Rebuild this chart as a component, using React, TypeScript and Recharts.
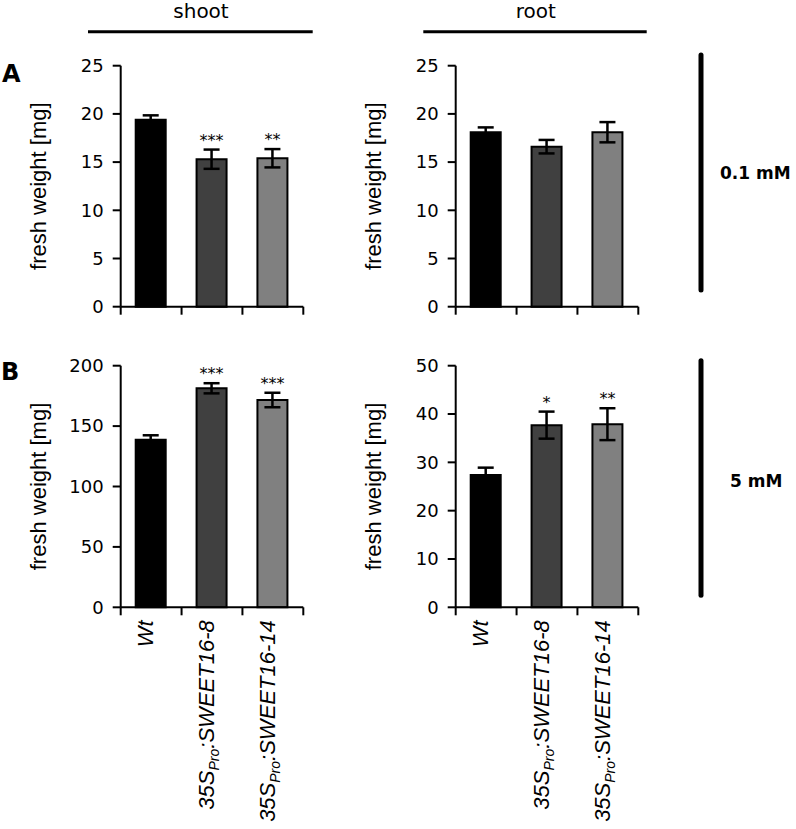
import React from 'react';
import { BarChart, Bar, XAxis, YAxis, ErrorBar, Cell, LabelList, Label } from 'recharts';

// genotypes on the x axis
const categories = ['Wt', '35SPro:SWEET16-8', '35SPro:SWEET16-14'];
const barColors = ['#000000', '#404040', '#808080'];

// 0.1 mM – shoot
const shootLowValues = [19.4, 15.3, 15.4];
const shootLowErrors = [0.45, 1.0, 0.95];
const shootLowStars = ['', '***', '**'];
// 0.1 mM – root
const rootLowValues = [18.1, 16.6, 18.1];
const rootLowErrors = [0.5, 0.7, 1.05];
const rootLowStars = ['', '', ''];
// 5 mM – shoot
const shootHighValues = [138.6, 181.3, 171.6];
const shootHighErrors = [3.8, 4.2, 6.0];
const shootHighStars = ['', '***', '***'];
// 5 mM – root
const rootHighValues = [27.4, 37.7, 37.9];
const rootHighErrors = [1.5, 2.8, 3.3];
const rootHighStars = ['', '*', '**'];

const lowTicks = [0, 5, 10, 15, 20, 25];
const shootHighTicks = [0, 50, 100, 150, 200];
const rootHighTicks = [0, 10, 20, 30, 40, 50];

const SANS = '"DejaVu Sans", sans-serif';
const ARIAL = '"Liberation Sans", Arial, sans-serif';

const CategoryTick = (props: any) => {
  const { x, y, payload, index, width, visibleTicksCount, showLabels } = props;
  const count = visibleTicksCount || categories.length;
  const band = width / count;
  const left = x - band / 2;
  const right = x + band / 2;
  const label = String(payload.value);
  const ax = x + 2;
  const ay = y + 13;
  return (
    <g>
      <line x1={left} y1={y} x2={left} y2={y + 8} stroke="#000" strokeWidth={2} />
      {index === count - 1 && (
        <line x1={right} y1={y} x2={right} y2={y + 8} stroke="#000" strokeWidth={2} />
      )}
      {showLabels && (
        <text
          x={ax}
          y={ay}
          transform={`rotate(-90, ${ax}, ${ay})`}
          textAnchor="end"
          fontFamily={ARIAL}
          fontStyle="italic"
          fontSize={22}
          fill="#000"
        >
          {label.startsWith('35SPro') ? (
            <>
              <tspan>35S</tspan>
              <tspan dy={5} fontSize={14}>Pro</tspan>
              <tspan dy={-5}>{label.slice(6)}</tspan>
            </>
          ) : (
            label
          )}
        </text>
      )}
    </g>
  );
};

interface PanelProps {
  values: number[];
  errors: number[];
  stars: string[];
  ticks: number[];
  showLabels: boolean;
  height: number;
  marginTop: number;
  xAxisHeight: number;
  marginBottom: number;
}

const Panel: React.FC<PanelProps> = ({
  values,
  errors,
  stars,
  ticks,
  showLabels,
  height,
  marginTop,
  xAxisHeight,
  marginBottom
}) => {
  const data = categories.map((name, i) => ({
    name,
    value: values[i],
    err: errors[i],
    star: stars[i]
  }));

  // asterisks sit just above the error bar whisker
  const renderStar = (p: any) => {
    const vb = p.viewBox ?? p;
    const i = p.index;
    const d = data[i];
    if (!d || !d.star) return null;
    const top = Math.min(vb.y, vb.y + vb.height);
    const pxPerUnit = Math.abs(vb.height) / d.value;
    const errTop = top - d.err * pxPerUnit;
    return (
      <text
        key={`star-${i}`}
        x={vb.x + vb.width / 2}
        y={errTop - 4}
        textAnchor="middle"
        fontFamily={SANS}
        fontSize={16}
        fill="#000"
      >
        {d.star}
      </text>
    );
  };

  return (
    <BarChart
      width={320}
      height={height}
      data={data}
      margin={{ top: marginTop, right: 16.7, bottom: marginBottom, left: 0 }}
      barCategoryGap="0%"
    >
      <XAxis
        dataKey="name"
        height={xAxisHeight}
        axisLine={{ stroke: '#000', strokeWidth: 2 }}
        tickLine={false}
        tickSize={0}
        tickMargin={0}
        interval={0}
        tick={(p: any) => <CategoryTick {...p} showLabels={showLabels} />}
      />
      <YAxis
        width={120.7}
        domain={[ticks[0], ticks[ticks.length - 1]]}
        ticks={ticks}
        interval={0}
        axisLine={{ stroke: '#000', strokeWidth: 2 }}
        tickLine={{ stroke: '#000', strokeWidth: 2 }}
        tickSize={8}
        tickMargin={9}
        tick={{ fontSize: 18, fontFamily: SANS, fill: '#000' }}
      >
        <Label
          content={(p: any) => {
            const vb = p.viewBox;
            const cx = vb.x + vb.width - 74.7;
            const cy = vb.y + vb.height / 2;
            return (
              <text
                x={cx}
                y={cy}
                transform={`rotate(-90, ${cx}, ${cy})`}
                textAnchor="middle"
                fontFamily={ARIAL}
                fontSize={22}
                fill="#000"
              >
                fresh weight [mg]
              </text>
            );
          }}
        />
      </YAxis>
      <Bar dataKey="value" barSize={30} stroke="#000" strokeWidth={2} isAnimationActive={false}>
        {data.map((_, i) => (
          <Cell key={`c-${i}`} fill={barColors[i]} />
        ))}
        <ErrorBar
          dataKey="err"
          width={8}
          stroke="#000"
          strokeWidth={2.5}
          direction="y"
          isAnimationActive={false}
        />
        <LabelList dataKey="star" content={renderStar} />
      </Bar>
    </BarChart>
  );
};

const App: React.FC = () => {
  return (
    <div
      style={{
        position: 'absolute',
        left: 0,
        top: 0,
        width: 796,
        height: 829,
        background: '#fff',
        overflow: 'hidden'
      }}
    >
      <div style={{ position: 'absolute', left: 0, top: 0 }}>
        <Panel
          values={shootLowValues}
          errors={shootLowErrors}
          stars={shootLowStars}
          ticks={lowTicks}
          showLabels={false}
          height={330}
          marginTop={65.7}
          xAxisHeight={20}
          marginBottom={3.3}
        />
      </div>
      <div style={{ position: 'absolute', left: 335, top: 0 }}>
        <Panel
          values={rootLowValues}
          errors={rootLowErrors}
          stars={rootLowStars}
          ticks={lowTicks}
          showLabels={false}
          height={330}
          marginTop={65.7}
          xAxisHeight={20}
          marginBottom={3.3}
        />
      </div>
      <div style={{ position: 'absolute', left: 0, top: 330 }}>
        <Panel
          values={shootHighValues}
          errors={shootHighErrors}
          stars={shootHighStars}
          ticks={shootHighTicks}
          showLabels
          height={499}
          marginTop={35.7}
          xAxisHeight={221.7}
          marginBottom={0}
        />
      </div>
      <div style={{ position: 'absolute', left: 335, top: 330 }}>
        <Panel
          values={rootHighValues}
          errors={rootHighErrors}
          stars={rootHighStars}
          ticks={rootHighTicks}
          showLabels
          height={499}
          marginTop={35.7}
          xAxisHeight={221.7}
          marginBottom={0}
        />
      </div>

      {/* headers, panel letters and concentration brackets */}
      <svg
        width={796}
        height={829}
        style={{ position: 'absolute', left: 0, top: 0, pointerEvents: 'none' }}
      >
        <text x={201} y={18.3} textAnchor="middle" fontFamily={SANS} fontSize={20} fill="#000">
          shoot
        </text>
        <line x1={88} y1={31.7} x2={312.7} y2={31.7} stroke="#000" strokeWidth={3} />
        <text x={535.8} y={18.3} textAnchor="middle" fontFamily={SANS} fontSize={20} fill="#000">
          root
        </text>
        <line x1={423.3} y1={31.7} x2={646.7} y2={31.7} stroke="#000" strokeWidth={3} />

        <text x={2} y={81.7} fontFamily={SANS} fontWeight="bold" fontSize={24} fill="#000">
          A
        </text>
        <text x={1} y={380} fontFamily={SANS} fontWeight="bold" fontSize={24} fill="#000">
          B
        </text>

        <line x1={701} y1={55} x2={701} y2={290} stroke="#000" strokeWidth={5} strokeLinecap="round" />
        <text x={720} y={179.3} fontFamily={SANS} fontWeight="bold" fontSize={17} fill="#000">
          0.1 mM
        </text>
        <line x1={701} y1={360.7} x2={701} y2={595.3} stroke="#000" strokeWidth={5} strokeLinecap="round" />
        <text x={730} y={486.7} fontFamily={SANS} fontWeight="bold" fontSize={17} fill="#000">
          5 mM
        </text>
      </svg>
    </div>
  );
};

export default App;
